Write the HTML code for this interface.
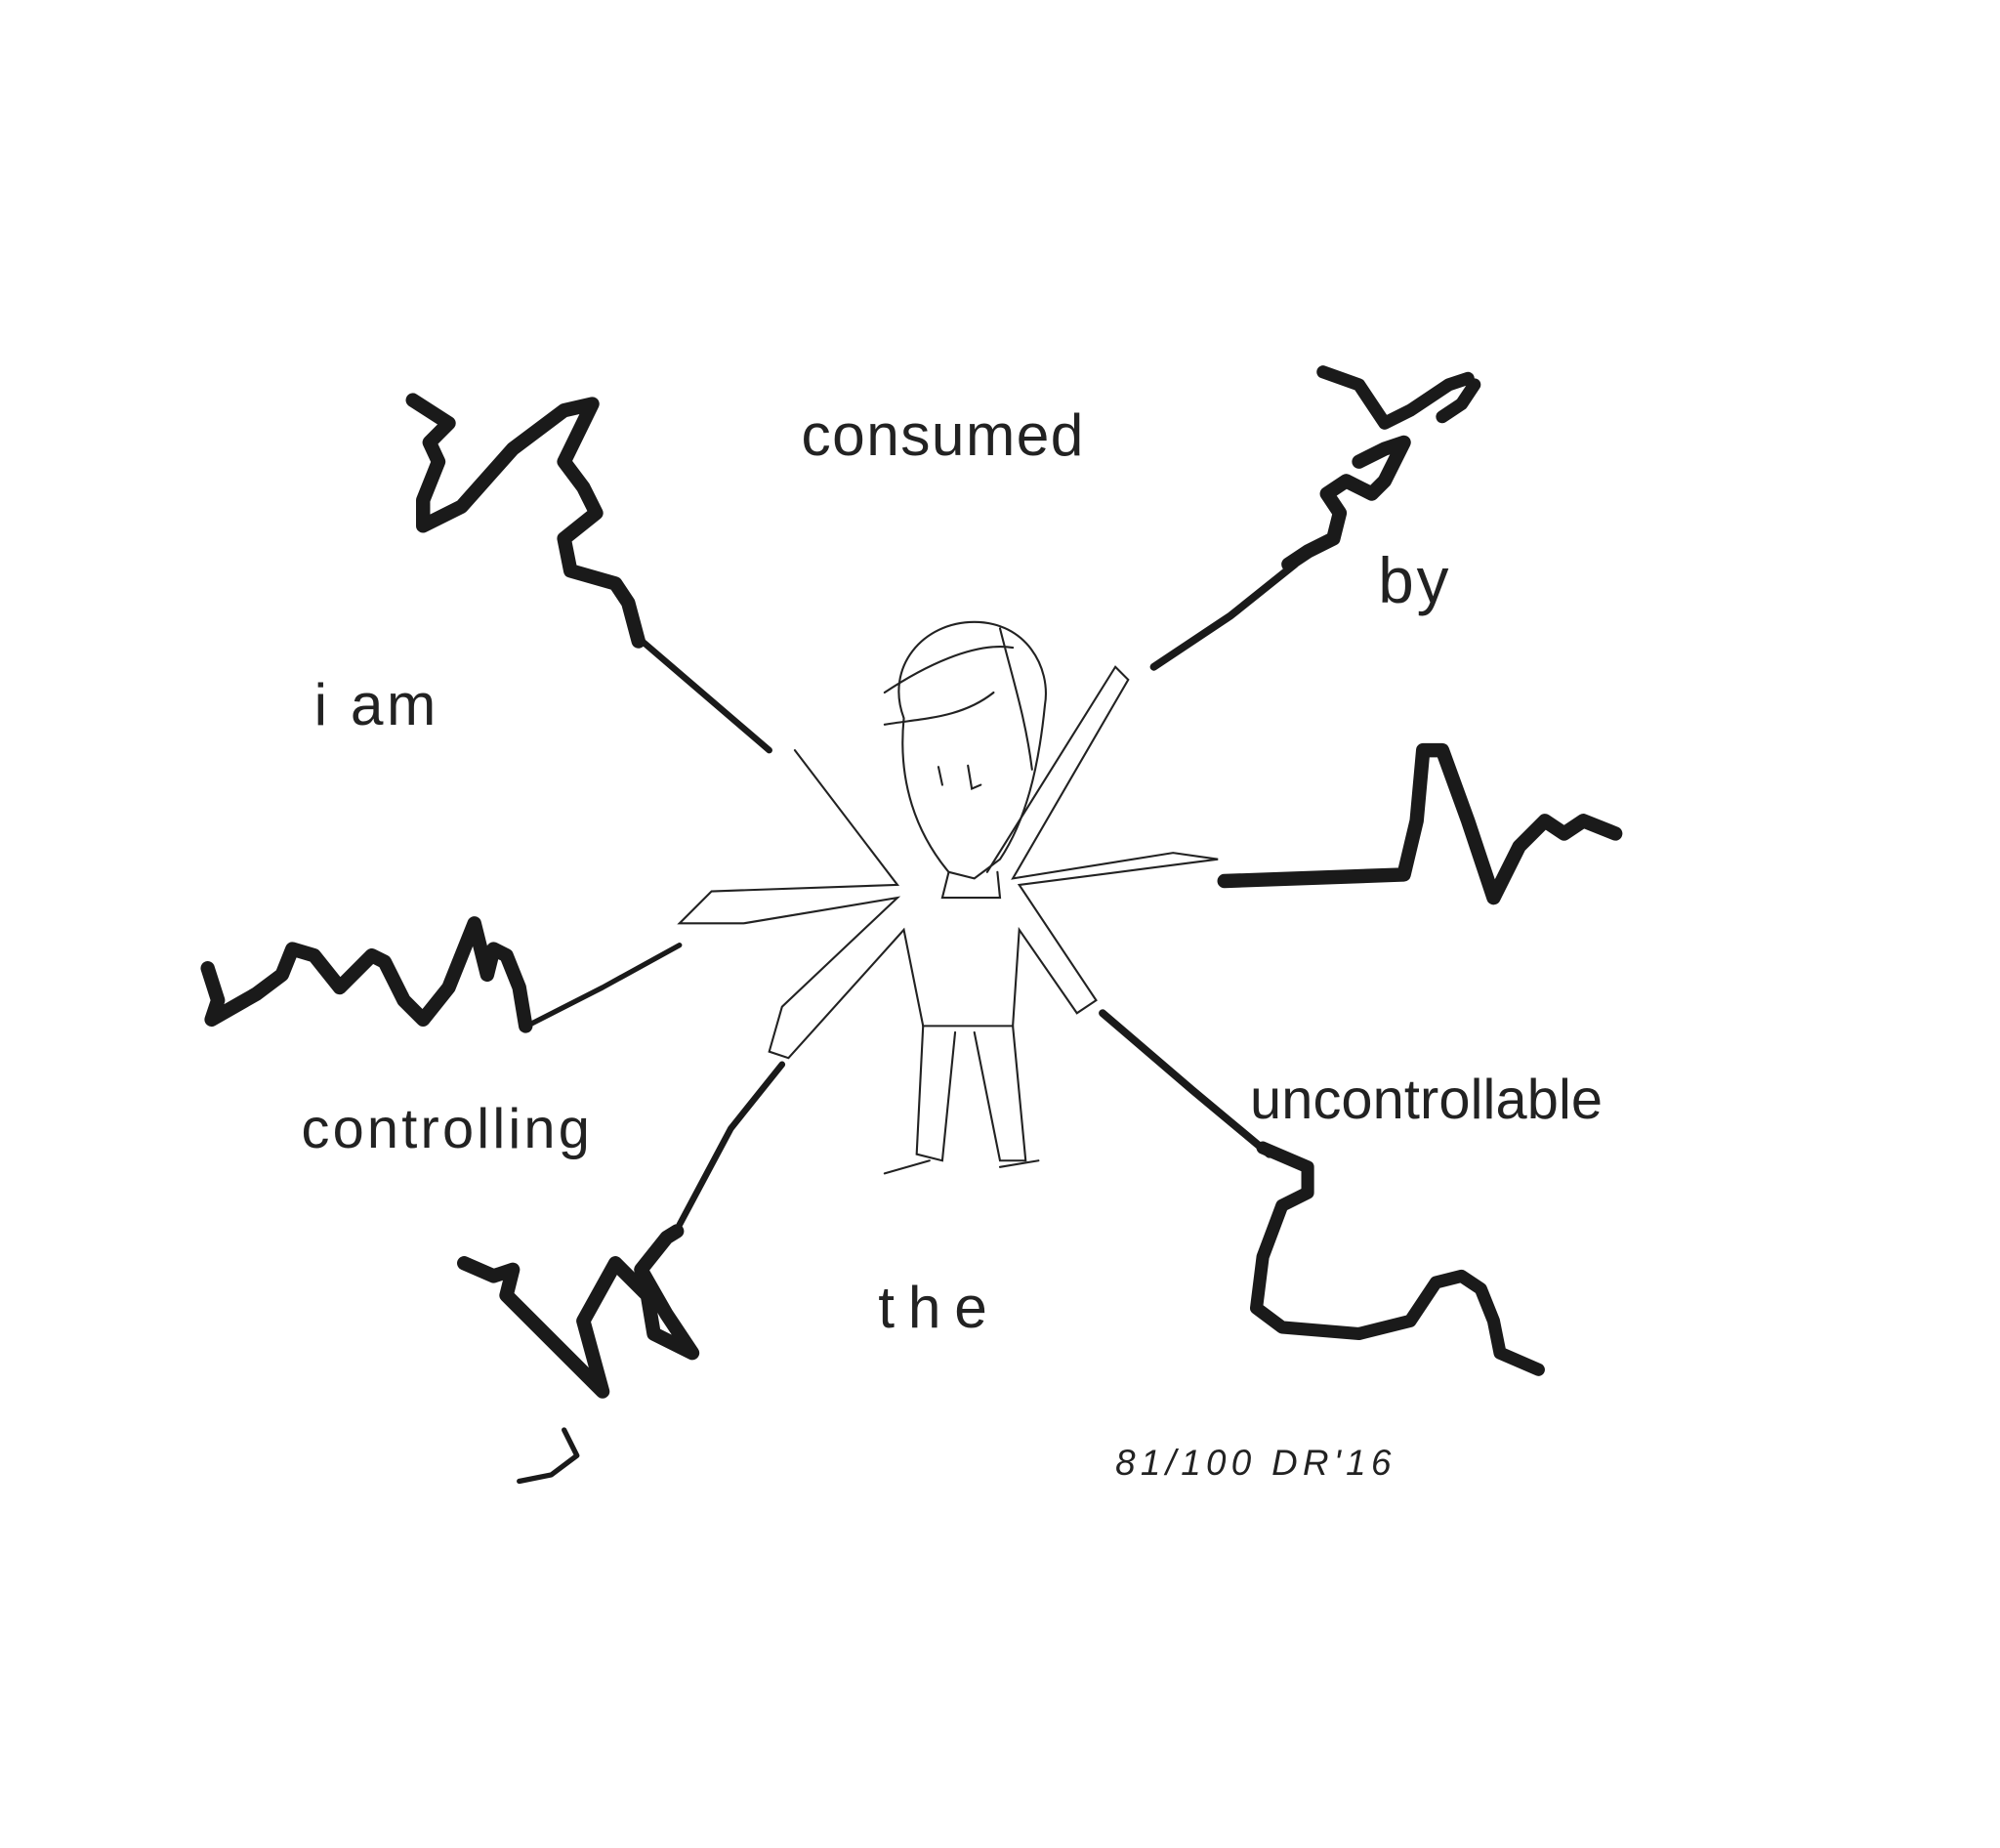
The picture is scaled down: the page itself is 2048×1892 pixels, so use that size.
<!DOCTYPE html>
<html><head><meta charset="utf-8"><style>
html,body{margin:0;padding:0;background:#fff;width:2048px;height:1892px;overflow:hidden}
svg{display:block}
text{font-family:"Liberation Sans",sans-serif;fill:#222}
</style></head><body>
<svg width="2048" height="1892" viewBox="0 0 1560 1441" preserveAspectRatio="none">
<rect width="1560" height="1441" fill="#fff"/>
<g fill="none" stroke="#1a1a1a" stroke-linecap="round" stroke-linejoin="round">
<!-- top-left squiggle -->
<path d="M322,312 L350,330 L335,345 L342,360 L330,390 L330,410 L360,395 L400,350 L440,320 L462,315 L440,360 L455,380 L465,400 L440,420 L445,445 L480,455 L490,470 L498,500" stroke-width="11"/>
<path d="M495,495 L600,585" stroke-width="5"/>
<!-- top-right squiggle -->
<path d="M1032,290 L1060,300 L1080,330 L1100,320 L1130,300 L1145,295 M1125,325 L1140,315 L1150,300" stroke-width="10"/>
<path d="M1060,360 L1080,350 L1095,345 L1080,375 L1070,385 L1050,375 L1035,385 L1045,400 L1040,420 L1020,430 L1005,440" stroke-width="11"/>
<path d="M1010,440 L960,480 L900,520" stroke-width="6"/>
<!-- right squiggle -->
<path d="M955,687 L1095,682 L1105,640 L1110,585 L1125,585 L1145,640 L1165,700 L1185,660 L1205,640 L1220,650 L1235,640 L1260,650" stroke-width="11"/>
<!-- left squiggle -->
<path d="M162,755 L170,780 L165,795 L200,775 L220,760 L228,740 L245,745 L265,770 L290,745 L300,750 L315,780 L330,795 L350,770 L370,720 L380,760 L385,740 L395,745 L405,770 L410,800" stroke-width="11"/>
<path d="M415,798 L470,770 L530,737" stroke-width="4"/>
<!-- bottom-left squiggle -->
<path d="M362,985 L385,995 L400,990 L395,1010 L415,1030 L445,1060 L470,1085 L455,1030 L480,985 L505,1010 L510,1040 L540,1055 L520,1025 L500,990 L520,965 L528,960" stroke-width="11"/>
<path d="M530,955 L570,880 L610,830" stroke-width="5"/>
<path d="M440,1115 L450,1135 L430,1150 L405,1155" stroke-width="4"/>
<!-- bottom-right squiggle -->
<path d="M860,790 L930,850 L990,900" stroke-width="6"/>
<path d="M985,895 L1020,910 L1020,930 L1000,940 L985,980 L980,1020 L1000,1035 L1060,1040 L1100,1030 L1120,1000 L1140,995 L1155,1005 L1165,1030 L1170,1055 L1200,1068" stroke-width="10"/>
</g>
<!-- figure -->
<g fill="none" stroke="#222" stroke-width="1.6" stroke-linecap="round">
<path d="M705,560 C690,520 720,485 760,485 C800,485 820,520 815,550 C810,600 800,640 780,670 L760,685 L740,680 C715,650 700,610 705,560 Z"/>
<path d="M690,540 C720,520 760,500 790,505 M780,490 C790,530 800,560 805,600 M690,565 C720,560 750,560 775,540"/>
<path d="M755,597 L758,615 L765,612 M732,598 L735,612"/>
<path d="M740,680 L735,700 L780,700 L778,680"/>
<path d="M620,585 L700,690 L555,695 L530,720 L580,720 L700,700 L610,785 L600,820 L615,825 L705,725 L720,800 L790,800 L795,725 L840,790 L855,780 L795,690 L950,670 L915,665 L790,685 L880,530 L870,520 L770,680"/>
<path d="M720,800 L715,900 L735,905 L745,805 M760,805 L780,905 L800,905 L790,800"/>
<path d="M690,915 L725,905 M780,910 L810,905"/>
</g>
<!-- text -->
<text x="625" y="355" font-size="46" textLength="220">consumed</text>
<text x="1075" y="470" font-size="50" textLength="55">by</text>
<text x="245" y="565" font-size="46" textLength="95">i am</text>
<text x="235" y="895" font-size="44" textLength="225">controlling</text>
<text x="975" y="872" font-size="44" textLength="275">uncontrollable</text>
<text x="685" y="1035" font-size="46" textLength="85">the</text>
<text x="870" y="1150" font-size="28" font-style="italic" textLength="215">81/100  DR'16</text>
</svg>
</body></html>
